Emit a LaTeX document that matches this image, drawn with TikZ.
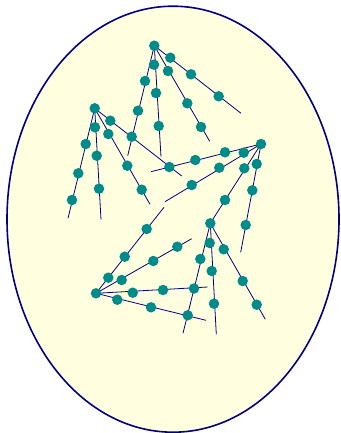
\documentclass[tikz,border=0pt]{standalone}
\definecolor{dotteal}{RGB}{0,139,139}
\definecolor{navyline}{RGB}{0,0,128}
\definecolor{lightyel}{RGB}{255,255,224}
\pgfdeclarelayer{bg}
\pgfsetlayers{bg,main}
\begin{document}
\begin{tikzpicture}[x=1pt,y=-1pt,
  dot/.style={circle,fill=dotteal,inner sep=0pt,minimum size=10.5pt},
  link/.style={draw=navyline,line width=0.8pt},
  rim/.style={draw=navyline,fill=lightyel,line width=1.6pt}]
\useasboundingbox (0,0) rectangle (340,433);
% cluster A
\node[dot] (a0) at (154.3,45.7) {};
\node[dot] (a11) at (145,81) {};
\node[dot] (a12) at (138,110.7) {};
\node[dot] (a13) at (131.7,136.7) {};
\coordinate (a1e) at (127.7,155.7);
\node[dot] (a21) at (154,64.7) {};
\node[dot] (a22) at (156,93) {};
\node[dot] (a23) at (158.7,126) {};
\coordinate (a2e) at (161,156.7);
\node[dot] (a31) at (168,71) {};
\node[dot] (a32) at (187.3,103.3) {};
\node[dot] (a33) at (201,127) {};
\coordinate (a3e) at (209.7,141.3);
\node[dot] (a41) at (170.3,57.7) {};
\node[dot] (a42) at (191,74.3) {};
\node[dot] (a43) at (218.7,96.3) {};
\coordinate (a4e) at (241,113.3);
% cluster B
\node[dot] (b0) at (94.7,108.3) {};
\node[dot] (b11) at (85.7,144) {};
\node[dot] (b12) at (78.3,173.3) {};
\node[dot] (b13) at (72,200) {};
\coordinate (b1e) at (68,218.3);
\node[dot] (b21) at (95,127.3) {};
\node[dot] (b22) at (96.7,155.7) {};
\node[dot] (b23) at (99,188.7) {};
\coordinate (b2e) at (101,219.7);
\node[dot] (b31) at (108.3,134) {};
\node[dot] (b32) at (127.3,165.7) {};
\node[dot] (b33) at (141.7,189.7) {};
\coordinate (b3e) at (150,204.3);
\node[dot] (b41) at (110.3,120.7) {};
\coordinate (b4e) at (181.7,176);
% cluster C
\node[dot] (c0) at (261,144) {};
\node[dot] (c11) at (225,152.3) {};
\node[dot] (c12) at (195.3,160) {};
\node[dot] (c13) at (169.3,167) {};
\coordinate (c1e) at (151,171.7);
\node[dot] (c21) at (243.7,152.7) {};
\node[dot] (c22) at (219.3,167.7) {};
\node[dot] (c23) at (191.7,185) {};
\coordinate (c2e) at (165,201.7);
\node[dot] (c31) at (244.3,168.3) {};
\node[dot] (c32) at (225,200) {};
\node[dot] (c41) at (256.7,164) {};
\node[dot] (c42) at (252.3,190.3) {};
\node[dot] (c43) at (245.7,225) {};
\coordinate (c4e) at (240.7,252.3);
% cluster D
\node[dot] (d0) at (210.3,223.3) {};
\node[dot] (d11) at (200.3,259) {};
\node[dot] (d12) at (194,288.5) {};
\node[dot] (d13) at (187.7,315.3) {};
\coordinate (d1e) at (183,333.3);
\node[dot] (d21) at (209.7,243) {};
\node[dot] (d22) at (211.7,271) {};
\node[dot] (d23) at (214,303.7) {};
\coordinate (d2e) at (216.3,334.3);
\node[dot] (d31) at (223.7,249.3) {};
\node[dot] (d32) at (242.7,281) {};
\node[dot] (d33) at (256.7,304.7) {};
\coordinate (d3e) at (265.3,319.3);
% cluster E
\node[dot] (e0) at (96,293.3) {};
\node[dot] (e11) at (108.3,277.7) {};
\node[dot] (e12) at (124.7,256.7) {};
\node[dot] (e13) at (146.7,229) {};
\coordinate (e1e) at (164,207.3);
\node[dot] (e21) at (121.7,280) {};
\node[dot] (e22) at (153.3,261) {};
\node[dot] (e23) at (177.3,246.7) {};
\coordinate (e2e) at (191.7,238.7);
\node[dot] (e31) at (132.7,292.7) {};
\node[dot] (e32) at (163,290) {};
\coordinate (e3e) at (207.7,287);
\node[dot] (e41) at (117.3,299.7) {};
\node[dot] (e42) at (151,307.3) {};
\coordinate (e4e) at (206,320.3);
\begin{pgfonlayer}{bg}
\draw[rim] (173,219.2) ellipse [x radius=166, y radius=213];
\draw[link] (a0.center) -- (a1e) (a0.center) -- (a2e) (a0.center) -- (a3e) (a0.center) -- (a4e);
\draw[link] (b0.center) -- (b1e) (b0.center) -- (b2e) (b0.center) -- (b3e) (b0.center) -- (b4e);
\draw[link] (c0.center) -- (c1e) (c0.center) -- (c2e) (c0.center) -- (d0.center) (c0.center) -- (c4e);
\draw[link] (d0.center) -- (d1e) (d0.center) -- (d2e) (d0.center) -- (d3e);
\draw[link] (e0.center) -- (e1e) (e0.center) -- (e2e) (e0.center) -- (e3e) (e0.center) -- (e4e);
\end{pgfonlayer}
\end{tikzpicture}
\end{document}
